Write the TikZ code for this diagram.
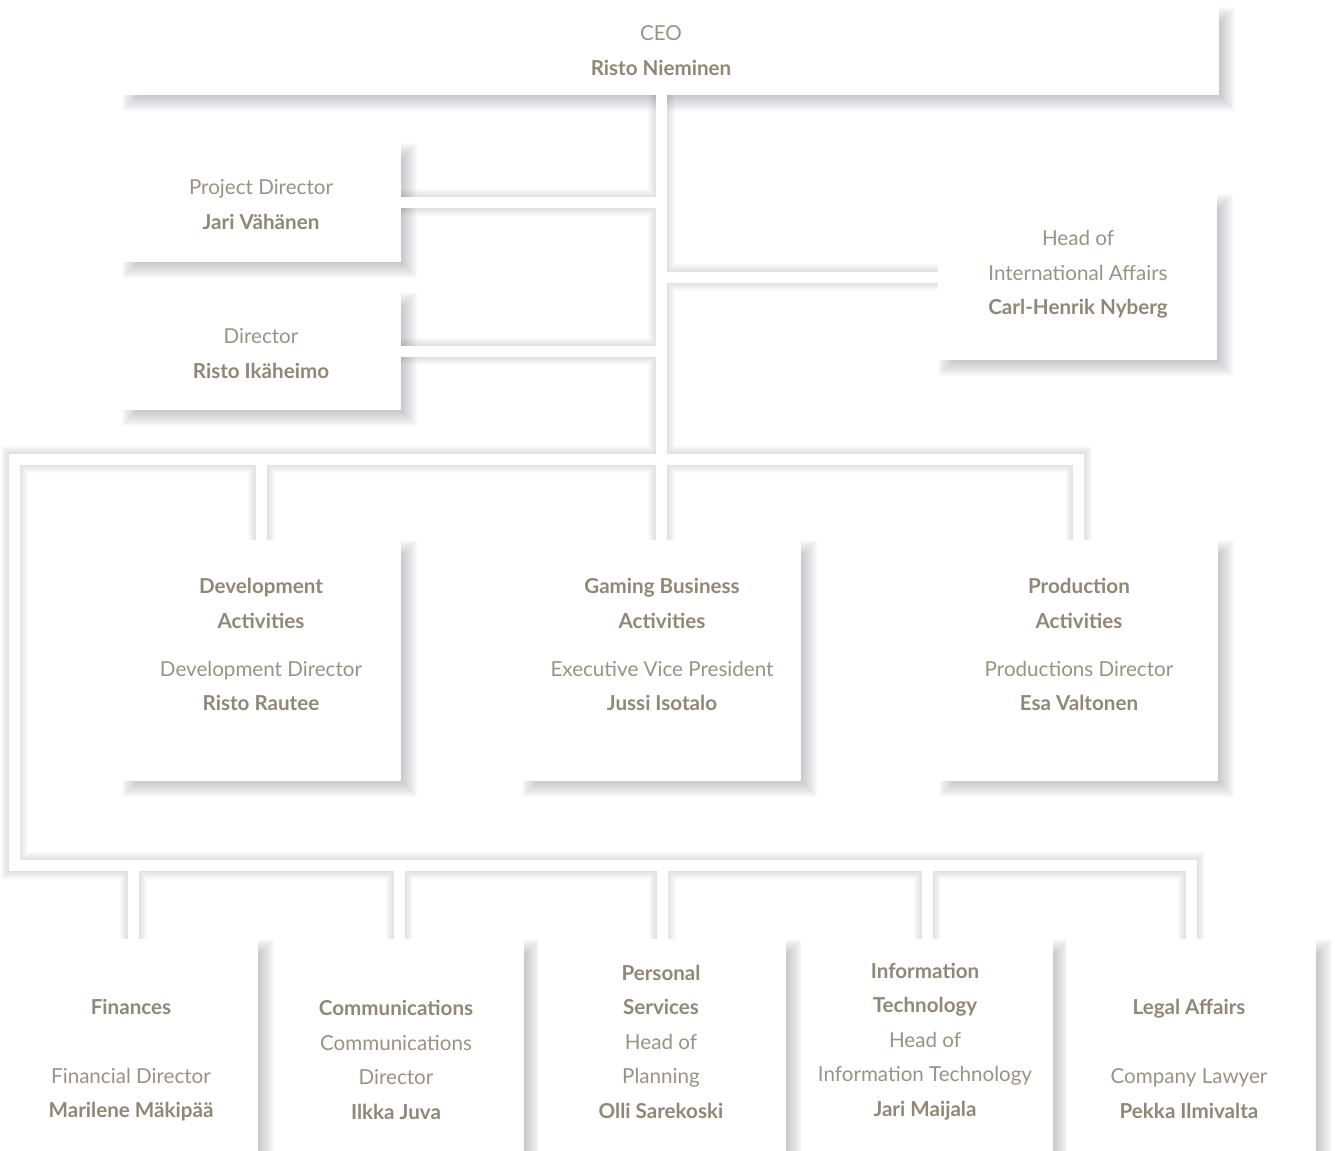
\documentclass[tikz,border=0pt]{standalone}
\usepackage{fontspec}
\setmainfont{Lato}
\definecolor{shadowc}{RGB}{45,45,58}
\definecolor{titlec}{RGB}{155,146,131}
\definecolor{namec}{RGB}{145,135,118}
\newcommand\nm[1]{{\color{namec}\bfseries #1}}
\newcommand\boxlist{ceo,pd,dir,hia,dev,gam,prod,fin,comm,pers,it,legal}
\newcommand\conpaths[1]{%
  \draw[#1] (ceo.south -| gam.north) -- (gam.north);
  \draw[#1] (pd.east) -- (pd.east -| gam.north);
  \draw[#1] (dir.east) -- (dir.east -| gam.north);
  \draw[#1] (hia.west) -- (hia.west -| gam.north);
  \draw[#1] (prod.north) -- (prod.north |- busy) -- (leftx |- busy) -- (leftx |- boty) -- (legal.north |- boty) -- (legal.north);
  \draw[#1] (dev.north |- busy) -- (dev.north);
  \draw[#1] (fin.north |- boty) -- (fin.north);
  \draw[#1] (comm.north |- boty) -- (comm.north);
  \draw[#1] (pers.north |- boty) -- (pers.north);
  \draw[#1] (it.north |- boty) -- (it.north);
}
\begin{document}
\begin{tikzpicture}[x=0.5pt,y=-0.5pt,
  box/.style={rectangle,inner sep=0pt,outer sep=0pt},
  txt/.style={align=center,text=titlec,inner sep=0pt,font=\fontsize{10.3pt}{17.25pt}\selectfont}]
\useasboundingbox (0,0) rectangle (1335,1151);
\fill[white] (0,0) rectangle (1335,1151);
\clip (0,0) rectangle (1335,1151);
% box geometry
\node[box,minimum width=548.5pt,minimum height=44pt] (ceo) at (670.5,51) {};
\node[box,minimum width=139.5pt,minimum height=59.5pt] (pd) at (261.5,202.5) {};
\node[box,minimum width=139.5pt,minimum height=59pt] (dir) at (261.5,351) {};
\node[box,minimum width=139.5pt,minimum height=83pt] (hia) at (1077.5,277) {};
\node[box,minimum width=139.5pt,minimum height=120.5pt] (dev) at (261.5,660.5) {};
\node[box,minimum width=139.5pt,minimum height=120.5pt] (gam) at (661.5,660.5) {};
\node[box,minimum width=139.5pt,minimum height=120.5pt] (prod) at (1078.5,660.5) {};
\node[box,minimum width=124.5pt,minimum height=116pt] (fin) at (133.5,1055) {};
\node[box,minimum width=125pt,minimum height=116pt] (comm) at (399,1055) {};
\node[box,minimum width=124pt,minimum height=116pt] (pers) at (662,1055) {};
\node[box,minimum width=126pt,minimum height=116pt] (it) at (927,1055) {};
\node[box,minimum width=125pt,minimum height=116pt] (legal) at (1191,1055) {};
\coordinate (busy) at (0,459);
\coordinate (boty) at (0,865.5);
\coordinate (leftx) at (14,0);
% soft shadows: offset 8px, spread -8..+8px (boxes), lines widen likewise
\foreach \k in {-8,...,8}{
  \begin{scope}[transparency group,opacity=0.015]
    \foreach \b in \boxlist{
      \fill[shadowc] ([shift={(8-\k,8-\k)}]\b.north west) rectangle ([shift={(8+\k,8+\k)}]\b.south east);
    }
  \end{scope}
}
\foreach \k in {-5,...,8}{
  \begin{scope}[transparency group,opacity=0.017]
    \begin{scope}[shift={(8,8)}]
      \conpaths{shadowc,line width={5.5pt+\k pt},line join=miter}
    \end{scope}
  \end{scope}
}
% white shapes
\foreach \b in \boxlist{
  \fill[white] (\b.north west) rectangle (\b.south east);
}
\conpaths{white,line width=5.5pt,line join=miter}
% texts
\node[txt] (t-ceo) at (661,50.5) {CEO\\\nm{Risto Nieminen}};
\node[txt] (t-pd) at (261,204.5) {Project Director\\\nm{Jari Vähänen}};
\node[txt] (t-dir) at (261,353.5) {Director\\\nm{Risto Ikäheimo}};
\node[txt] (t-hia) at (1078,274.5) {Head of\\International Affairs\\\nm{Carl-Henrik Nyberg}};
\node[txt] (t-dev) at (261,644.5) {\nm{Development}\\\nm{Activities}\\[6.75pt]Development Director\\\nm{Risto Rautee}};
\node[txt] (t-gam) at (662,644.5) {\nm{Gaming Business}\\\nm{Activities}\\[6.75pt]Executive Vice President\\\nm{Jussi Isotalo}};
\node[txt] (t-prod) at (1079,644.5) {\nm{Production}\\\nm{Activities}\\[6.75pt]Productions Director\\\nm{Esa Valtonen}};
\node[txt] (t-fin) at (131,1060) {\nm{Finances}\\[17.25pt]Financial Director\\\nm{Marilene Mäkipää}};
\node[txt] (t-comm) at (396,1060) {\nm{Communications}\\Communications\\Director\\\nm{Ilkka Juva}};
\node[txt] (t-pers) at (661,1041.5) {\nm{Personal}\\\nm{Services}\\Head of\\Planning\\\nm{Olli Sarekoski}};
\node[txt] (t-it) at (925,1041.5) {\nm{Information}\\\nm{Technology}\\Head of\\Information Technology\\\nm{Jari Maijala}};
\node[txt] (t-legal) at (1189,1059) {\nm{Legal Affairs}\\[17.25pt]Company Lawyer\\\nm{Pekka Ilmivalta}};
\end{tikzpicture}
\end{document}
